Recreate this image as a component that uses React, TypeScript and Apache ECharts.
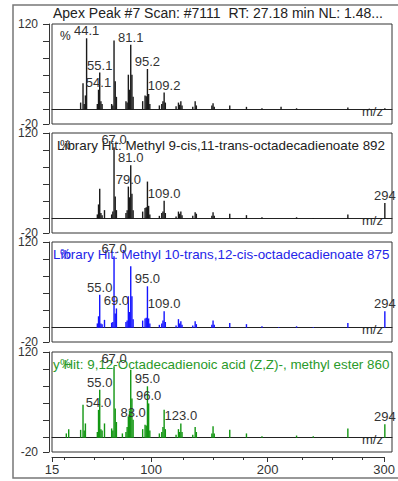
import React, { useEffect, useRef } from "react";
import * as echarts from "echarts";

// ---- axis ticks / labels ----
const mzMajor = [15, 100, 200, 300];
const mzMinor = [25, 50, 75, 125, 150, 175, 225, 250, 275];
const yTicks = [-20, 0, 24, 48, 72, 96, 120];
const yLabels = [-20, 120];

// ---- panel titles ----
const titles = [
  "Apex Peak #7 Scan: #7111  RT: 27.18 min NL: 1.48...",
  "Library Hit: Methyl 9-cis,11-trans-octadecadienoate 892",
  "Library Hit: Methyl 10-trans,12-cis-octadecadienoate 875",
  "y Hit: 9,12-Octadecadienoic acid (Z,Z)-, methyl ester 860",
];

// ---- panel 1: measured spectrum ----
const mz1 = [39, 41, 42, 43, 44, 53, 54, 55, 56, 57, 65, 66, 67, 68, 69, 77, 78, 79, 80, 81, 82, 83, 91, 93, 94, 95, 96, 97, 105, 107, 108, 109, 110, 119, 121, 122, 123, 124, 133, 135, 136, 149, 150, 151, 164, 178, 191, 207, 220, 263, 281, 294];
const int1 = [10, 37, 8, 20, 100, 8, 28, 52, 12, 8, 8, 6, 97, 40, 18, 12, 10, 49, 28, 91, 49, 18, 12, 20, 19, 57, 22, 8, 6, 8, 12, 24, 10, 5, 10, 7, 12, 6, 4, 12, 6, 6, 9, 4, 6, 4, 2, 4, 2, 3, 1.5, 2];
const labels1: [number, string][] = [[44, "44.1"], [55, "55.1"], [54, "54.1"], [81, "81.1"], [95, "95.2"], [109, "109.2"]];

// ---- panel 2: library hit 1 ----
const mz2 = [53, 54, 55, 56, 57, 59, 65, 66, 67, 68, 69, 77, 78, 79, 80, 81, 82, 83, 91, 93, 94, 95, 96, 97, 105, 107, 108, 109, 110, 119, 121, 122, 123, 124, 133, 135, 136, 149, 150, 151, 164, 178, 191, 220, 234, 263, 294];
const int2 = [6, 20, 42, 8, 5, 12, 6, 10, 100, 31, 12, 8, 12, 45, 30, 75, 35, 12, 10, 15, 16, 52, 18, 6, 4, 8, 10, 25, 8, 3, 10, 7, 10, 5, 4, 9, 7, 4, 9, 4, 7, 5, 2, 2, 1, 6, 22];
const labels2: [number, string][] = [[67, "67.0"], [81, "81.0"], [79, "79.0"], [109, "109.0"], [294, "294"]];

// ---- panel 3: library hit 2 ----
const mz3 = [53, 54, 55, 56, 57, 59, 65, 66, 67, 68, 69, 77, 78, 79, 80, 81, 82, 83, 91, 93, 94, 95, 96, 97, 105, 107, 108, 109, 110, 119, 121, 122, 123, 124, 133, 135, 136, 149, 150, 151, 164, 178, 191, 205, 220, 234, 263, 294];
const int3 = [6, 16, 46, 6, 5, 11, 7, 8, 100, 20, 27, 8, 10, 44, 22, 86, 44, 12, 10, 13, 14, 58, 13, 6, 4, 6, 10, 23, 8, 3, 12, 6, 9, 4, 3, 9, 5, 4, 10, 4, 6.5, 5, 2, 1, 2, 1, 6.5, 23];
const labels3: [number, string][] = [[67, "67.0"], [55, "55.0"], [69, "69.0"], [95, "95.0"], [109, "109.0"], [294, "294"]];

// ---- panel 4: library hit 3 ----
const mz4 = [27, 29, 39, 41, 42, 43, 53, 54, 55, 56, 57, 59, 65, 66, 67, 68, 69, 74, 77, 78, 79, 80, 81, 82, 83, 91, 93, 94, 95, 96, 97, 105, 107, 108, 109, 110, 119, 121, 122, 123, 124, 133, 135, 136, 149, 150, 151, 164, 178, 191, 220, 234, 263, 294];
const int4 = [6, 12, 11, 46, 10, 20, 8, 39, 67, 12, 10, 20, 13, 10, 100, 41, 22, 6, 8, 15, 30, 38, 95, 55, 25, 12, 18, 17, 72, 48, 10, 6, 8, 15, 39, 12, 4, 12, 8, 20, 8, 4, 15, 8, 6, 16, 6, 11, 6, 2, 3, 2, 13, 19];
const labels4: [number, string][] = [[67, "67.0"], [55, "55.0"], [95, "95.0"], [54, "54.0"], [96, "96.0"], [83, "83.0"], [123, "123.0"], [294, "294"]];

const FONT = "'Liberation Sans', Arial, sans-serif";

export default function App() {
  const ref = useRef<HTMLDivElement>(null);
  useEffect(() => {
    if (!ref.current) return;
    const chart = echarts.init(ref.current, undefined, { renderer: "svg" });

    const tops = [24, 133, 242, 352];
    const H = 100;
    const zeroY = (t: number) => t + (H * 120) / 140;
    const panels = [
      { mz: mz1, it: int1, lab: labels1, bar: "#1a1a1a", txt: "#222" },
      { mz: mz2, it: int2, lab: labels2, bar: "#1a1a1a", txt: "#222" },
      { mz: mz3, it: int3, lab: labels3, bar: "#1414ff", txt: "#2424e8" },
      { mz: mz4, it: int4, lab: labels4, bar: "#129612", txt: "#2a9a2a" },
    ];

    const grid: any[] = tops.map((t) => ({
      left: 52, right: 6, top: t, height: H, show: true,
      borderColor: "#333", borderWidth: 1, backgroundColor: "transparent",
    }));
    grid.push({ left: 52, right: 6, top: 456, height: 1, show: false });
    grid.push({ left: 52, right: 6, top: 456, height: 1, show: false });

    const xAxis: any[] = tops.map((_, i) => ({
      gridIndex: i, type: "value", min: 15, max: 300,
      axisLine: { show: true, onZero: true, lineStyle: { color: "#222", width: 1 } },
      axisTick: { show: false }, axisLabel: { show: false }, splitLine: { show: false },
    }));
    xAxis.push({
      gridIndex: 4, type: "value", min: 15, max: 300, position: "bottom",
      axisLine: { show: true, lineStyle: { color: "#333", width: 1 } },
      axisTick: { show: true, length: 5, customValues: mzMajor, lineStyle: { color: "#333" } },
      axisLabel: { show: true, customValues: mzMajor, fontSize: 13, color: "#333", margin: 6, fontFamily: FONT },
      splitLine: { show: false },
    });
    xAxis.push({
      gridIndex: 5, type: "value", min: 15, max: 300, position: "bottom",
      axisLine: { show: false },
      axisTick: { show: true, length: 3, customValues: mzMinor, lineStyle: { color: "#333" } },
      axisLabel: { show: false }, splitLine: { show: false },
    });

    const yAxis: any[] = tops.map((_, i) => ({
      gridIndex: i, type: "value", min: -20, max: 120, offset: 3,
      axisLine: { show: true, onZero: false, lineStyle: { color: "#333" } },
      axisTick: { show: true, length: 6, customValues: yTicks, lineStyle: { color: "#333" } },
      axisLabel: { show: true, customValues: yLabels, fontSize: 12, color: "#333", margin: 11, fontFamily: FONT },
      splitLine: { show: false },
    }));
    yAxis.push({ gridIndex: 4, show: false, min: 0, max: 1 });
    yAxis.push({ gridIndex: 5, show: false, min: 0, max: 1 });

    const series: any[] = panels.map((p, i) => ({
      type: "bar", xAxisIndex: i, yAxisIndex: i, barWidth: 1.4,
      itemStyle: { color: p.bar },
      label: { show: false, position: "top", distance: 1, fontSize: 13, color: "#333", fontFamily: FONT },
      data: p.mz.map((m, k) => {
        const l = p.lab.find((q) => q[0] === m);
        return l
          ? { value: [m, p.it[k]], label: { show: true, formatter: l[1] } }
          : [m, p.it[k]];
      }),
    }));

    const graphic: any[] = [
      { type: "rect", z: -1, shape: { x: 13, y: 5, width: 400, height: 473 }, style: { fill: "none", stroke: "#777", lineWidth: 1.5 } },
      { type: "text", x: 53, y: 13, style: { text: titles[0], fill: "#222", font: `14px ${FONT}`, verticalAlign: "middle" } },
    ];
    tops.forEach((t, i) => {
      if (i > 0) {
        const x0 = i === 1 ? 57 : 53;
        graphic.push({ type: "text", x: x0, y: t + 12, style: { text: titles[i], fill: panels[i].txt, font: `13.4px ${FONT}`, verticalAlign: "middle" } });
      }
      graphic.push({ type: "text", x: 60, y: t + 12, style: { text: "%", fill: panels[i].txt, font: `12px ${FONT}`, verticalAlign: "middle" } });
      graphic.push({ type: "text", x: 362, y: zeroY(t) + 1.5, style: { text: "m/z", fill: "#333", font: `13px ${FONT}`, verticalAlign: "middle" } });
    });

    chart.setOption({ animation: false, grid, xAxis, yAxis, series, graphic });
    return () => chart.dispose();
  }, []);
  return <div ref={ref} style={{ position: "fixed", left: 0, top: 0, width: 398, height: 481, background: "#fff" }} />;
}
